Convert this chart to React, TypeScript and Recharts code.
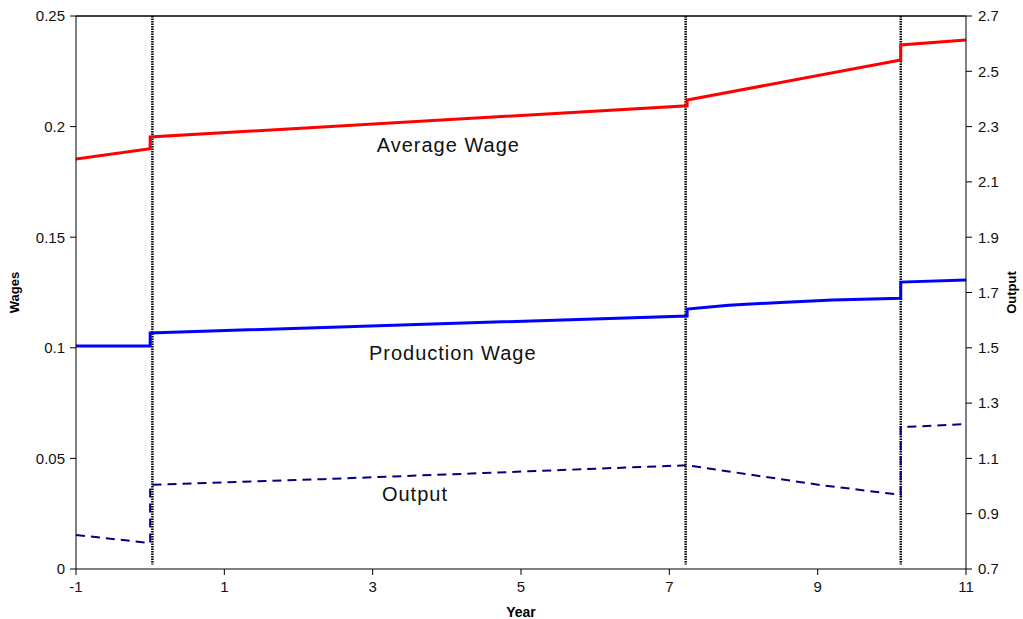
import { LineChart, Line, XAxis, YAxis, ReferenceLine, ReferenceDot, Label } from 'recharts';

// years where each series is sampled (repeated year = vertical jump)
const avgYears = [-1, 0, 0, 7.24, 7.24, 10.12, 10.12, 11];
const avgWage = [0.1853, 0.19, 0.1953, 0.2094, 0.212, 0.2301, 0.2369, 0.2392];

const prodYears = [-1, 0, 0, 7.24, 7.24, 7.8, 8.5, 9.2, 10.12, 10.12, 11];
const prodWage = [0.1008, 0.1008, 0.1067, 0.1144, 0.1175, 0.1192, 0.1205, 0.1216, 0.1224, 0.1297, 0.1306];

const outYears = [-1, 0, 0, 2.33, 4.49, 6.91, 7.24, 9.03, 10.12, 10.12, 11];
const outValues = [0.823, 0.794, 1.004, 1.025, 1.047, 1.072, 1.075, 1.004, 0.968, 1.213, 1.224];

const breakYears = [0.03, 7.22, 10.12];

const xTicks = [-1, 1, 3, 5, 7, 9, 11];
const wageTicks = [0, 0.05, 0.1, 0.15, 0.2, 0.25];
const outputTicks = [0.7, 0.9, 1.1, 1.3, 1.5, 1.7, 1.9, 2.1, 2.3, 2.5, 2.7];

const toPoints = (xs: number[], ys: number[]) => xs.map((x, i) => ({ x, v: ys[i] }));

const tickStyle = { fill: '#111', fontSize: 15 };
const textLabel = { fill: '#111', fontSize: 20, letterSpacing: 1 };

const App = () => {
  return (
    <div style={{ position: 'absolute', left: 0, top: 0, fontFamily: 'Arial, "Liberation Sans", sans-serif' }}>
      <LineChart width={1023} height={619} margin={{ top: 16, right: 0, left: 0, bottom: 0 }}>
        <XAxis
          dataKey="x"
          type="number"
          domain={[-1, 11]}
          ticks={xTicks}
          height={50}
          stroke="#000"
          tick={tickStyle}
          tickSize={6}
          tickMargin={6}
          allowDataOverflow
        >
          <Label value="Year" position="insideBottom" offset={2} style={{ fontWeight: 'bold', fontSize: 14, fill: '#000' }} />
        </XAxis>
        <YAxis
          yAxisId="left"
          domain={[0, 0.25]}
          ticks={wageTicks}
          width={76}
          stroke="#000"
          tick={tickStyle}
          tickSize={6}
          tickMargin={5}
          allowDataOverflow
        >
          <Label value="Wages" angle={-90} position="insideLeft" offset={14} style={{ fontWeight: 'bold', fontSize: 13, fill: '#000', textAnchor: 'middle' }} />
        </YAxis>
        <YAxis
          yAxisId="right"
          orientation="right"
          domain={[0.7, 2.7]}
          ticks={outputTicks}
          width={57}
          stroke="#000"
          tick={tickStyle}
          tickSize={6}
          tickMargin={6}
          allowDataOverflow
        >
          <Label value="Output" angle={-90} position="insideRight" offset={12} style={{ fontWeight: 'bold', fontSize: 13, fill: '#000', textAnchor: 'middle' }} />
        </YAxis>

        <ReferenceLine yAxisId="left" y={0.25} stroke="#000" strokeWidth={1.5} />
        {breakYears.map((yr) => (
          <ReferenceLine
            key={yr}
            yAxisId="left"
            segment={[{ x: yr, y: 0.25 }, { x: yr, y: 0.002 }]}
            stroke="#000"
            strokeWidth={2.5}
            strokeDasharray="1.5 1"
          />
        ))}

        <Line
          yAxisId="left"
          data={toPoints(avgYears, avgWage)}
          dataKey="v"
          type="linear"
          stroke="#ff0000"
          strokeWidth={3}
          dot={false}
          isAnimationActive={false}
        />
        <Line
          yAxisId="left"
          data={toPoints(prodYears, prodWage)}
          dataKey="v"
          type="linear"
          stroke="#0000ff"
          strokeWidth={3}
          dot={false}
          isAnimationActive={false}
        />
        <Line
          yAxisId="right"
          data={toPoints(outYears, outValues)}
          dataKey="v"
          type="linear"
          stroke="#000080"
          strokeWidth={2}
          strokeDasharray="9 6"
          dot={false}
          isAnimationActive={false}
        />

        <ReferenceDot yAxisId="left" x={4.02} y={0.1917} r={0} fill="none" stroke="none">
          <Label value="Average Wage" position="center" style={textLabel} />
        </ReferenceDot>
        <ReferenceDot yAxisId="left" x={4.08} y={0.0977} r={0} fill="none" stroke="none">
          <Label value="Production Wage" position="center" style={textLabel} />
        </ReferenceDot>
        <ReferenceDot yAxisId="left" x={3.57} y={0.0339} r={0} fill="none" stroke="none">
          <Label value="Output" position="center" style={textLabel} />
        </ReferenceDot>
      </LineChart>
    </div>
  );
};

export default App;
